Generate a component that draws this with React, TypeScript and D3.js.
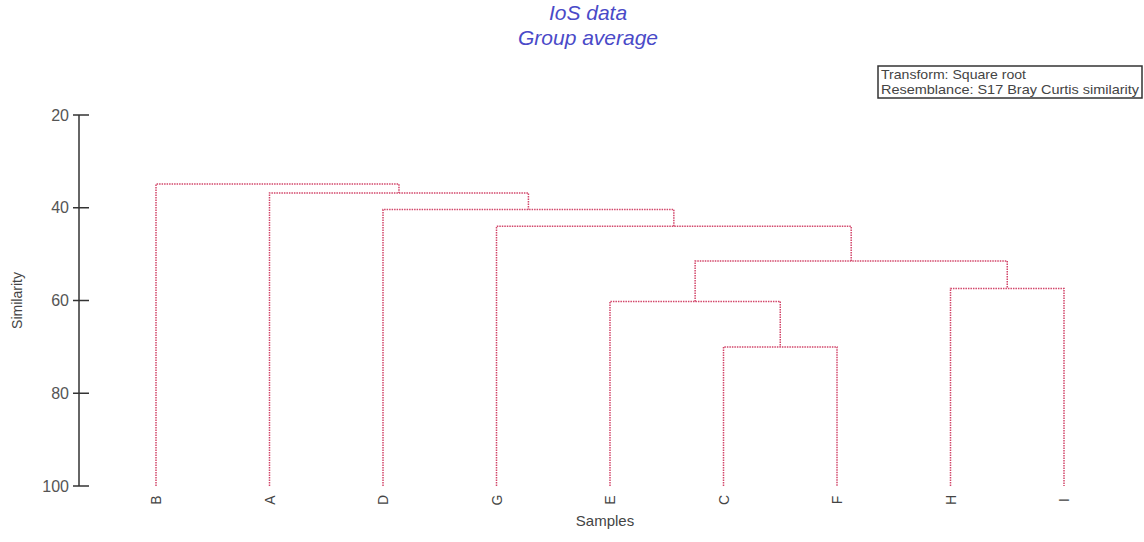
import React, { useEffect, useRef } from 'react'
import * as d3 from 'd3'

// leaf order along the x axis
const leaves = ['B', 'A', 'D', 'G', 'E', 'C', 'F', 'H', 'I']

// merges: two children joined at a similarity level
const mergeIds = ['CF', 'ECF', 'HI', 'ECFHI', 'G+', 'D+', 'A+', 'B+']
const mergeLeft = ['C', 'E', 'H', 'ECF', 'G', 'D', 'A', 'B']
const mergeRight = ['F', 'CF', 'I', 'HI', 'ECFHI', 'G+', 'D+', 'A+']
const mergeSimilarity = [70.0, 60.2, 57.4, 51.5, 44.0, 40.4, 36.8, 34.9]

const yTicks = [20, 40, 60, 80, 100]
const legendLines = ['Transform: Square root', 'Resemblance: S17 Bray Curtis similarity']

const width = 1144
const height = 542
const lineColor = '#d2466a'
const font = '"Liberation Sans", Arial, sans-serif'

const App: React.FC = () => {
  const svgRef = useRef<SVGSVGElement>(null)

  useEffect(() => {
    if (!svgRef.current) return
    const svg = d3.select(svgRef.current)
    svg.selectAll('*').remove()

    const x = d3.scalePoint<string>().domain(leaves).range([156, 1064])
    const y = d3.scaleLinear().domain([20, 100]).range([115, 486])

    // node positions
    const pos: Record<string, { x: number; s: number }> = {}
    leaves.forEach(l => (pos[l] = { x: x(l) as number, s: 100 }))
    mergeIds.forEach((id, i) => {
      const a = pos[mergeLeft[i]]
      const b = pos[mergeRight[i]]
      pos[id] = { x: (a.x + b.x) / 2, s: mergeSimilarity[i] }
    })

    const g = svg.append('g')
    mergeIds.forEach((id, i) => {
      const a = pos[mergeLeft[i]]
      const b = pos[mergeRight[i]]
      const s = mergeSimilarity[i]
      const path = d3.path()
      path.moveTo(a.x, y(a.s))
      path.lineTo(a.x, y(s))
      path.lineTo(b.x, y(s))
      path.lineTo(b.x, y(b.s))
      g.append('path')
        .attr('d', path.toString())
        .attr('fill', 'none')
        .attr('stroke', lineColor)
        .attr('stroke-width', 1.5)
        .attr('stroke-dasharray', '1.5,1')
    })

    // y axis
    const axis = svg.append('g').attr('transform', 'translate(79,0)')
    axis.append('line')
      .attr('y1', y(20)).attr('y2', y(100))
      .attr('stroke', '#333').attr('stroke-width', 1.5)
    yTicks.forEach(t => {
      axis.append('line')
        .attr('x1', -6).attr('x2', 10)
        .attr('y1', y(t)).attr('y2', y(t))
        .attr('stroke', '#333').attr('stroke-width', 1.5)
      axis.append('text')
        .attr('x', -10).attr('y', y(t))
        .attr('dy', '0.35em')
        .attr('text-anchor', 'end')
        .attr('font-family', font)
        .attr('font-size', 16)
        .attr('fill', '#555')
        .text(t)
    })

    svg.append('text')
      .attr('transform', `translate(22,${y(60)}) rotate(-90)`)
      .attr('text-anchor', 'middle')
      .attr('font-family', font)
      .attr('font-size', 14)
      .attr('fill', '#444')
      .text('Similarity')

    // leaf labels
    leaves.forEach(l => {
      svg.append('text')
        .attr('transform', `translate(${(x(l) as number) + 5},500) rotate(-90)`)
        .attr('text-anchor', 'middle')
        .attr('font-family', font)
        .attr('font-size', 14)
        .attr('fill', '#444')
        .text(l)
    })

    svg.append('text')
      .attr('x', 605).attr('y', 526)
      .attr('text-anchor', 'middle')
      .attr('font-family', font)
      .attr('font-size', 15)
      .attr('fill', '#444')
      .text('Samples')

    // titles
    svg.append('text')
      .attr('x', 588).attr('y', 20)
      .attr('text-anchor', 'middle')
      .attr('font-family', font)
      .attr('font-style', 'italic')
      .attr('font-size', 21)
      .attr('fill', '#4a4ac8')
      .text('IoS data')
    svg.append('text')
      .attr('x', 588).attr('y', 45)
      .attr('text-anchor', 'middle')
      .attr('font-family', font)
      .attr('font-style', 'italic')
      .attr('font-size', 21)
      .attr('fill', '#4a4ac8')
      .text('Group average')

    // legend box
    const lg = svg.append('g')
    lg.append('rect')
      .attr('x', 878).attr('y', 66)
      .attr('width', 264).attr('height', 32)
      .attr('fill', 'white')
      .attr('stroke', '#333').attr('stroke-width', 1.5)
    legendLines.forEach((t, i) => {
      lg.append('text')
        .attr('x', 881).attr('y', 79 + i * 15)
        .attr('font-family', font)
        .attr('font-size', 13)
        .attr('fill', '#444')
        .attr('textLength', i === 0 ? 145 : 258)
        .attr('lengthAdjust', 'spacingAndGlyphs')
        .text(t)
    })
  }, [])

  return (
    <svg
      ref={svgRef}
      width={width}
      height={height}
      style={{ position: 'absolute', left: 0, top: 0, background: 'white' }}
    />
  )
}

export default App
